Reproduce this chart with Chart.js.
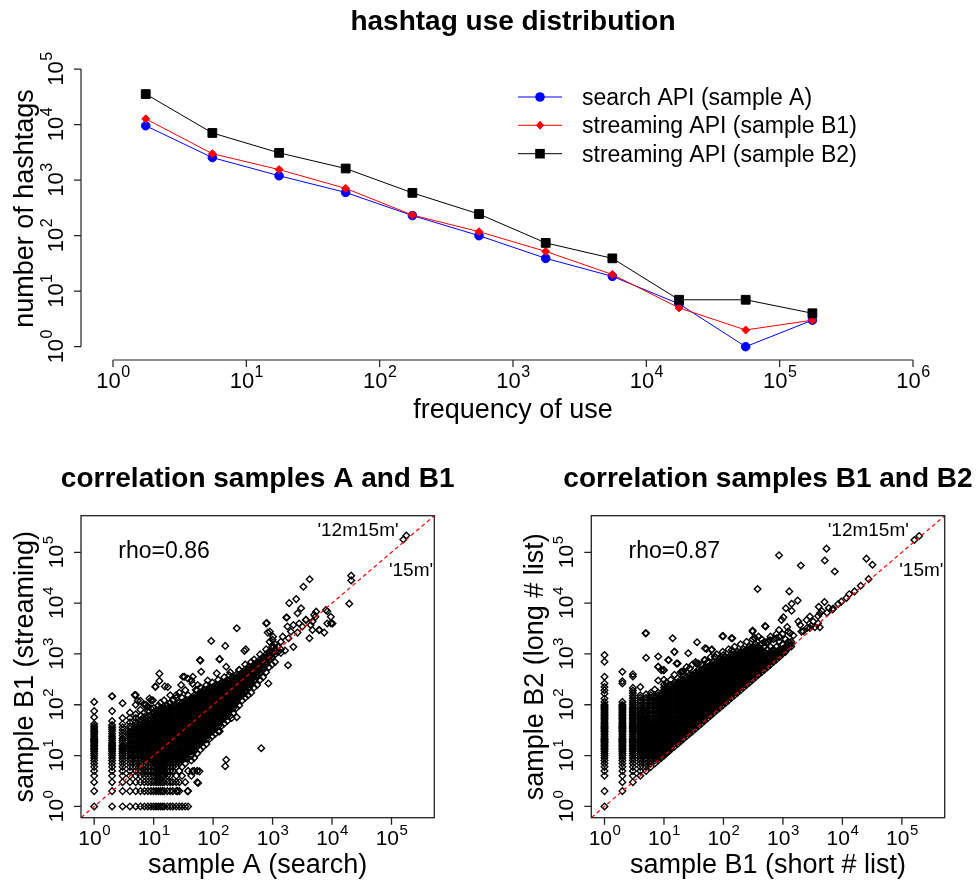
<!DOCTYPE html>
<html>
<head>
<meta charset="utf-8">
<title>hashtag use distribution</title>
<script src="https://cdn.jsdelivr.net/npm/chart.js@4.4.1/dist/chart.umd.min.js"></script>
<style>
    body { margin: 0; background: #fff; }
    #wrap { position: relative; width: 978px; height: 885px; }
    #wrap canvas { position: absolute; left: 0; top: 0; }
</style>
</head>
<body>
<div id="wrap">
    <canvas id="distChart" width="978" height="885"></canvas>
    <canvas id="corrAB1" width="978" height="885"></canvas>
    <canvas id="corrB1B2" width="978" height="885"></canvas>
</div>
<script>
// ---- top panel: hashtag use distribution ----
const freqBins = [1.76, 5.56, 17.6, 55.6, 176, 556, 1760, 5560, 17600, 55600, 176000];
const sampleA  = [9550, 2550, 1200, 600, 230, 100, 39, 18.5, 5.9, 1, 3];
const sampleB1 = [12700, 3000, 1550, 710, 235, 118, 52, 20, 5, 2, 3];
const sampleB2 = [35500, 7080, 3100, 1620, 590, 245, 74, 39, 7, 7, 4];
const seriesLabels = ['search API (sample A)', 'streaming API (sample B1)', 'streaming API (sample B2)'];

const distXTicks = [1, 10, 100, 1e3, 1e4, 1e5, 1e6];
const distYTicks = [1, 10, 100, 1e3, 1e4, 1e5];
const corrTicks = [1, 10, 100, 1e3, 1e4, 1e5];

// ---- bottom panels: one string per x value, "x: y y y ..." ----
const corrAB1Columns = [
    "1: 1 2 3 4 5 6 7 8 9 10 11 12 13 14 15 16 17 18 19 20 21 22 24 26 28 30 32 35 38 42 57 75 114",
    "2: 1 2 3 4 5 6 7 8 9 10 11 12 13 14 15 16 17 18 20 22 24 27 30 33 36 40 48 75 147",
    "3: 1 2 3 4 5 6 7 8 9 10 11 12 13 14 15 16 18 20 22 25 28 32 36 42 55 107",
    "4: 1 2 3 4 5 6 7 8 9 10 11 12 13 14 15 16 17 18 20 22 24 26 28 30 34 38 45 55 70",
    "5: 1 2 3 4 5 6 7 8 9 10 11 12 13 14 15 16 17 18 20 22 24 26 28 30 33 36 40 46 55 65 100 155",
    "6: 1 2 3 4 5 6 7 8 9 10 11 12 13 14 15 16 17 18 19 20 22 24 26 28 30 33 36 40 45 50 60 80 120",
    "7: 1 2 3 4 5 6 7 8 9 10 11 12 13 14 15 16 18 20 22 24 26 28 30 33 36 40 45 50 58 70 100",
    "8: 1 2 3 4 5 6 7 8 9 10 11 12 13 14 15 16 17 18 20 22 24 26 28 30 33 36 40 45 50 60 75 92",
    "9: 1 2 3 4 5 6 7 8 9 10 11 12 13 14 15 16 17 18 19 20 22 24 26 28 30 33 36 40 45 52 60 85 123",
    "10: 1 2 3 4 5 6 7 8 9 10 11 12 13 15 17 19 21 24 27 30 34 38 43 48 54 61 68 86",
    "11: 1 2 3 4 5 6 7 8 9 10 11 12 13 15 17 19 21 24 27 30 34 38 43 48 54 61 68 77",
    "12: 1 2 3 4 5 6 7 8 9 10 11 12 13 15 17 19 21 24 27 30 34 38 43 48 54 61 68 77 97",
    "13: 1 2 3 4 5 6 7 8 9 10 11 12 13 15 17 19 21 24 27 30 34 38 43 48 54 61 68 77 86 109",
    "14: 1 2 3 4 5 6 7 8 9 10 11 12 13 15 17 19 21 24 27 30 34 38 43 48 54 61 68 77 86",
    "15: 1 2 3 4 5 6 7 8 9 10 11 12 13 15 17 19 21 24 27 30 34 38 43 48 54 61 68 77 86 122",
    "17: 1 2 3 4 5 6 7 8 9 10 11 12 13 15 17 19 21 24 27 30 34 38 43 48 54 61 68 77 86 97",
    "19: 1 2 3 4 5 6 7 8 9 10 11 12 13 15 17 19 21 24 27 30 34 38 43 48 54 61 68 77 86 109 154",
    "21: 1 2 3 5 6 7 8 9 10 11 12 13 15 17 19 21 24 27 30 34 38 43 48 54 61 68 77 86 97 122",
    "24: 1 2 3 4 6 7 8 9 10 11 12 13 15 17 19 21 24 27 30 34 38 43 48 54 61 68 77 86 97 137",
    "27: 1 2 3 5 7 8 9 10 11 12 13 15 17 19 21 24 27 30 34 38 43 48 54 61 68 77 86 97 109 173",
    "30: 1 4 6 8 9 10 11 12 13 15 17 19 21 24 27 30 34 38 43 48 54 61 68 77 86 97 109 137",
    "34: 1 3 7 9 10 11 12 13 15 17 19 21 24 27 30 34 38 43 48 54 61 68 77 86 97 109 122 194",
    "38: 1 2 5 9 11 12 13 15 17 19 21 24 27 30 34 38 43 48 54 61 68 77 86 97 109 122 154",
    "43: 4 8 10 12 13 15 17 19 21 24 27 30 34 38 43 48 54 61 68 77 86 97 109 122 137",
    "48: 5 9 12 13 15 17 19 21 24 27 30 34 38 43 48 54 61 68 77 86 97 109 122 137 154",
    "54: 3 5 11 15 17 19 21 24 27 30 34 38 43 48 54 61 68 77 86 97 109 122 137 154 194",
    "61: 13 17 19 21 24 27 30 34 38 43 48 54 61 68 77 86 97 109 122 137 154 173 218",
    "68: 15 19 21 24 27 30 34 38 43 48 54 61 68 77 86 97 109 122 137 154 173 194",
    "77: 17 21 24 27 30 34 38 43 48 54 61 68 77 86 97 109 122 137 154 173 194 245",
    "86: 21 27 30 34 38 43 48 54 61 68 77 86 97 109 122 137 154 173 194 218",
    "97: 24 30 34 38 43 48 54 61 68 77 86 97 109 122 137 154 173 194 218 275",
    "109: 27 34 38 43 48 54 61 68 77 86 97 109 122 137 154 173 194 218 245",
    "122: 30 38 43 48 54 61 68 77 86 97 109 122 137 154 173 194 218 245 309",
    "137: 38 48 54 61 68 77 86 97 109 122 137 154 173 194 218 245 275",
    "154: 43 54 61 68 77 86 97 109 122 137 154 173 194 218 245 275 347",
    "173: 48 61 68 77 86 97 109 122 137 154 173 194 218 245 275 309",
    "194: 61 77 86 97 109 122 137 154 173 194 218 245 275 309 437",
    "218: 68 86 97 109 122 137 154 173 194 218 245 275 309 347",
    "245: 86 109 122 137 154 173 194 218 245 275 309 347 389",
    "275: 97 137 154 173 194 218 245 275 309 347 389 490",
    "309: 122 154 173 194 218 245 275 309 347 389 437",
    "347: 137 173 194 218 245 275 309 347 389 437 490 617",
    "389: 154 218 245 275 309 347 389 437 490 550",
    "437: 173 245 275 309 347 389 437 490 550 693",
    "490: 218 309 347 389 437 490 550 617 778",
    "550: 245 347 389 437 490 550 617 693",
    "617: 309 437 490 550 617 693 778 980",
    "693: 347 490 550 617 693 778 873",
    "778: 437 617 693 778 873 980 1230",
    "873: 550 778 873 980 1100",
    "980: 617 873 980 1100 1380",
    "1100: 693 980 1230 1550",
    "1230: 1100 1380",
    "1380: 1230 1740"
];
const corrAB1Extra = [
    [158000, 178000], [178000, 214000], [21000, 34700], [21000, 28000], [19500, 9770],
    [4200, 29500], [3300, 21000], [2500, 12000], [1900, 10000], [3020, 7940],
    [780, 4000], [850, 263], [645, 14], [830, 2630], [1020, 2190], [890, 1740],
    [1050, 1380], [1150, 1170], [1380, 1050], [1620, 1170], [1740, 5200], [1820, 600],
    [2240, 3700], [2040, 2750], [1860, 2040], [2240, 1380], [2630, 2630], [3630, 4680],
    [3160, 3470], [4370, 3720], [4170, 2040], [4680, 2950], [5250, 5370], [6030, 2950],
    [7400, 2630], [8320, 6920], [9550, 5370], [10200, 3980], [8320, 3980], [5000, 5900],
    [2800, 3980], [1780, 3470], [1480, 2190], [1700, 5200], [2630, 6300], [3650, 4700],
    [4700, 4350], [6150, 2950], [7900, 7350], [9600, 4000], [5400, 6800],
    [250, 3200], [93, 1800], [160, 1440], [61, 740], [129, 790], [128, 790], [60, 760],
    [355, 1230], [336, 1150], [800, 4070], [900, 2750], [1000, 1900],
    [12.5, 410], [12.5, 295], [10.7, 230], [15.4, 230], [4.8, 155], [2, 147],
    [33, 355], [29, 245], [43, 300], [45, 260], [51, 195], [21, 123], [8.5, 133],
    [5.4, 120], [7.4, 100], [10.7, 224], [17.3, 224], [31, 355], [37.5, 330],
    [45.5, 355], [55, 245], [81, 300], [115, 415], [166, 560], [128, 224], [187, 380],
    [275, 480], [63, 445], [24, 155], [9.7, 123], [7.9, 92],
    [250, 57], [205, 55], [129, 30], [166, 8.3], [160, 6.2], [45, 4.9], [59, 4.9],
    [56, 2.9], [25, 2], [37, 2]
];

const corrB1B2Columns = [
    "1: 1 2 4 5 6 7 8 9 10 11 12 13 14 15 16 17 18 19 20 21 22 24 26 28 30 32 34 36 38 40 43 46 50 53 57 61 65 70 75 80 85 90 95 100 114 133 166 194 224 263 355 700 950",
    "2: 2 3 4 5 6 7 8 9 10 11 12 13 14 15 16 17 18 19 20 21 22 24 26 28 30 32 34 36 38 40 43 46 50 53 57 61 65 70 75 80 85 90 95 100 114 263 290 445",
    "3: 3 4 5 6 7 8 9 10 11 12 13 14 15 16 17 18 19 20 21 22 24 26 28 30 32 34 36 38 40 43 46 50 53 57 61 65 70 75 80 85 90 100 110 120 135 150 170 190 215 360 400",
    "4: 4 5 6 7 8 9 10 11 12 13 14 15 16 17 18 19 20 22 24 26 28 30 32 34 36 38 40 43 46 50 55 60 65 70 77 86 97 109 122 137 154 224",
    "5: 5 6 7 8 9 10 11 12 13 14 15 16 17 18 19 20 22 24 26 28 30 32 34 36 38 40 43 46 50 55 60 65 70 77 86 97 109 122 137 160 840 2560",
    "6: 6 7 8 9 10 11 12 13 14 15 16 17 18 19 20 22 24 26 28 30 33 36 40 44 48 54 61 68 77 86 97 109 122 137 154 173",
    "7: 7 8 9 10 11 12 13 14 15 16 17 18 19 20 22 24 26 28 30 33 36 40 44 48 54 61 68 77 86 97 109 122 137 154 200",
    "8: 8 9 10 11 12 13 14 15 16 17 18 19 20 22 24 26 28 30 33 36 40 44 48 54 61 68 77 86 97 109 122 137 154 173 300 560 890",
    "9: 9 10 11 12 13 14 15 16 17 18 19 20 22 24 26 28 30 33 36 40 44 48 54 61 68 77 86 97 109 122 137 160 480",
    "10: 10 11 12 13 14 15 16 17 18 19 20 22 24 26 28 30 33 36 40 44 48 54 61 68 77 86 97 109 122 137 154 173 194 218 250 309 480",
    "11: 11 12 13 14 15 16 17 18 19 20 22 24 26 28 30 33 36 40 44 48 54 61 68 77 86 97 109 122 137 154 173 194 218 275",
    "12: 12 13 14 15 17 19 21 24 27 30 34 38 43 48 54 61 68 77 86 97 109 122 137 154 173 194 218 245 760",
    "13: 13 14 15 17 19 21 24 27 30 34 38 43 48 54 61 68 77 86 97 109 122 137 154 173 194 218 245 309",
    "15: 15 17 19 21 24 27 30 34 38 43 48 54 61 68 77 86 97 109 122 137 154 173 194 218 245 275 389 1100",
    "17: 17 19 21 24 27 30 34 38 43 48 54 61 68 77 86 97 109 122 137 154 173 194 218 245 275 330 650",
    "19: 19 21 24 27 30 34 38 43 48 54 61 68 77 86 97 109 122 137 154 173 194 218 245 275 309 437",
    "21: 21 24 27 30 34 38 43 48 54 61 68 77 86 97 109 122 137 154 173 194 218 245 275 309 400 445",
    "24: 24 27 30 34 38 43 48 54 61 68 77 86 97 109 122 137 154 173 194 218 245 275 309 347 550",
    "27: 27 30 34 38 43 48 54 61 68 77 86 97 109 122 137 154 173 194 218 245 275 309 347 389 520",
    "30: 30 34 38 43 48 54 61 68 77 86 97 109 122 137 154 173 194 218 245 275 309 347 389 617",
    "34: 34 38 43 48 54 61 68 77 86 97 109 122 137 154 173 194 218 245 275 309 347 389 437 693",
    "38: 38 43 48 54 61 68 77 86 97 109 122 137 154 173 194 218 245 275 309 347 389 437 490 650",
    "43: 43 48 54 61 68 77 86 97 109 122 137 154 173 194 218 245 275 309 347 389 437 490 617",
    "48: 48 54 61 68 77 86 97 109 122 137 154 173 194 218 245 275 309 347 389 437 490 550 760",
    "54: 54 61 68 77 86 97 109 122 137 154 173 194 218 245 275 309 347 389 437 490 550 693",
    "61: 61 68 77 86 97 109 122 137 154 173 194 218 245 275 309 347 389 437 490 550 617 873",
    "68: 68 77 86 97 109 122 137 154 173 194 218 245 275 309 347 389 437 490 550 617 693",
    "77: 77 86 97 109 122 137 154 173 194 218 245 275 309 347 389 437 490 550 617 693 980",
    "86: 86 97 109 122 137 154 173 194 218 245 275 309 347 389 437 490 550 617 693 778",
    "97: 97 109 122 137 154 173 194 218 245 275 309 347 389 437 490 550 617 693 778 1100",
    "109: 109 122 137 154 173 194 218 245 275 309 347 389 437 490 550 617 693 778 873",
    "122: 122 137 154 173 194 218 245 275 309 347 389 437 490 550 617 693 778 873 1230",
    "137: 137 154 173 194 218 245 275 309 347 389 437 490 550 617 693 778 873 980",
    "154: 154 173 194 218 245 275 309 347 389 437 490 550 617 693 778 873 980 1380",
    "173: 173 194 218 245 275 309 347 389 437 490 550 617 693 778 873 980 1100",
    "194: 194 218 245 275 309 347 389 437 490 550 617 693 778 873 980 1100 1550",
    "218: 218 245 275 309 347 389 437 490 550 617 693 778 873 980 1100 1230",
    "245: 245 275 309 347 389 437 490 550 617 693 778 873 980 1100 1230 1740",
    "275: 275 309 347 389 437 490 550 617 693 778 873 980 1100 1230 1380",
    "309: 309 347 389 437 490 550 617 693 778 873 980 1100 1230 1380 1950",
    "347: 347 389 437 490 550 617 693 778 873 980 1100 1230 1380 1550",
    "389: 389 437 490 550 617 693 778 873 980 1100 1230 1380 2190",
    "437: 437 490 550 617 693 778 873 980 1100 1230 1550 1950",
    "490: 490 550 617 693 778 873 980 1100 1380 1740",
    "550: 550 617 693 778 873 980 1230 1740",
    "617: 617 693 778 873 980 1100 1380 2190",
    "693: 693 778 873 980 1100 1230 1950",
    "778: 778 873 980 1100 1380 2460",
    "873: 873 980 1100 1230 1740 2190",
    "980: 1000 1100 1230 1550 2460",
    "1100: 1100 1230 1380 1950",
    "1230: 1300 1500 1740 2760",
    "1380: 1400 1550 1740"
];
const corrB1B2Extra = [
    [162000, 174000], [195000, 209000], [860, 87000], [5400, 118000], [5060, 69000],
    [7440, 42000], [2000, 55000], [25300, 75000], [32000, 57000], [27600, 29700],
    [20300, 22000], [11700, 12600], [9600, 10700], [375, 19000], [1280, 17000],
    [1770, 11200], [1400, 9700], [1120, 7940], [1400, 7080], [3900, 5600], [4200, 6300],
    [5900, 8000], [5000, 10500], [4500, 7000], [4000, 8500], [5500, 6500], [6800, 7500],
    [96, 2240], [141, 2040], [309, 2880], [500, 3550], [339, 2040], [860, 2950],
    [1180, 3390], [1320, 2570], [950, 4680], [1020, 5250], [1820, 4350], [1950, 3720],
    [2500, 4680], [2840, 5450], [3230, 4350], [2050, 2750], [2840, 3230], [3900, 4000],
    [3450, 3350], [4170, 3350], [49, 1290], [64, 1230], [72, 870], [100, 950], [138, 1200],
    [263, 1200], [410, 1500], [535, 1620], [605, 1870], [780, 2040],
    [4.9, 2560], [14, 2040], [99, 2240], [136, 2040], [36, 1700], [309, 2750], [338, 2040],
    [513, 3460], [15, 1100], [25.6, 1030], [52, 1260], [63, 1200], [8, 560], [9.8, 480],
    [11.8, 760], [16.3, 650], [20, 445], [27, 520], [35, 650], [49, 760], [72, 890],
    [93, 780], [145, 1100], [1500, 2300], [2200, 2800], [2600, 3300], [3000, 3600],
    [7000, 7800], [8500, 9600], [13000, 15000], [16000, 17000]
];

const axisMin = 10 ** -0.22;
const axisMax = 10 ** 5.72;
const diagonal = [axisMin, axisMax];

const FONT = '"Liberation Sans", Arial, Helvetica, sans-serif';

function columnsToPoints(columns, extra) {
    const points = [];
    columns.forEach(col => {
        const [x, ys] = col.split(':');
        ys.trim().split(/\s+/).forEach(y => points.push({ x: +x, y: +y }));
    });
    extra.forEach(([x, y]) => points.push({ x, y }));
    return points;
}

// "10" with a raised exponent, centred on (x, y) baseline
function powLabel(ctx, x, y, exp, size, supSize, rotated) {
    ctx.save();
    ctx.translate(x, y);
    if (rotated) ctx.rotate(-Math.PI / 2);
    ctx.textAlign = 'left';
    ctx.textBaseline = 'alphabetic';
    ctx.font = size + 'px ' + FONT;
    const w1 = ctx.measureText('10').width;
    ctx.font = supSize + 'px ' + FONT;
    const w2 = ctx.measureText(String(exp)).width;
    const start = -(w1 + w2) / 2;
    ctx.font = size + 'px ' + FONT;
    ctx.fillText('10', start, 0);
    ctx.font = supSize + 'px ' + FONT;
    ctx.fillText(String(exp), start + w1 + 0.5, -size * 0.5);
    ctx.restore();
}

function label(ctx, str, x, y, font, rotated) {
    ctx.save();
    ctx.translate(x, y);
    if (rotated) ctx.rotate(-Math.PI / 2);
    ctx.font = font;
    ctx.textAlign = 'center';
    ctx.textBaseline = 'alphabetic';
    ctx.fillText(str, 0, 0);
    ctx.restore();
}

function drawMarker(ctx, style, x, y, color) {
    ctx.fillStyle = color;
    ctx.beginPath();
    if (style === 'circle') {
        ctx.arc(x, y, 4.8, 0, Math.PI * 2);
    } else if (style === 'rectRot') {
        ctx.moveTo(x, y - 4.5); ctx.lineTo(x + 4, y); ctx.lineTo(x, y + 4.5); ctx.lineTo(x - 4, y);
        ctx.closePath();
    } else {
        ctx.rect(x - 4.8, y - 4.8, 9.6, 9.6);
    }
    ctx.fill();
}

const distDecor = {
    id: 'distDecor',
    afterDraw(chart) {
        const { ctx, chartArea: a, scales: { x, y } } = chart;
        ctx.save();
        ctx.strokeStyle = '#222';
        ctx.fillStyle = '#000';
        ctx.lineWidth = 1.2;

        // x axis
        const yAx = a.bottom + 1;
        ctx.beginPath();
        ctx.moveTo(x.getPixelForValue(distXTicks[0]), yAx);
        ctx.lineTo(x.getPixelForValue(distXTicks[distXTicks.length - 1]), yAx);
        distXTicks.forEach(v => {
            const px = x.getPixelForValue(v);
            ctx.moveTo(px, yAx);
            ctx.lineTo(px, yAx + 7);
        });
        // y axis
        const xAx = a.left;
        ctx.moveTo(xAx, y.getPixelForValue(distYTicks[0]));
        ctx.lineTo(xAx, y.getPixelForValue(distYTicks[distYTicks.length - 1]));
        distYTicks.forEach(v => {
            const py = y.getPixelForValue(v);
            ctx.moveTo(xAx, py);
            ctx.lineTo(xAx - 7, py);
        });
        ctx.stroke();

        distXTicks.forEach(v => powLabel(ctx, x.getPixelForValue(v), 388, Math.round(Math.log10(v)), 22, 16, false));
        distYTicks.forEach(v => powLabel(ctx, a.left - 18, y.getPixelForValue(v), Math.round(Math.log10(v)), 22, 16, true));

        label(ctx, 'hashtag use distribution', (a.left + a.right) / 2, 30, 'bold 28px ' + FONT);
        label(ctx, 'frequency of use', (a.left + a.right) / 2, 418, '27px ' + FONT);
        label(ctx, 'number of hashtags', a.left - 48, (a.top + a.bottom) / 2, '27px ' + FONT, true);

        // legend
        const rows = [105, 133.3, 161.7];
        chart.data.datasets.forEach((ds, i) => {
            const my = rows[i] - 8;
            ctx.strokeStyle = ds.borderColor;
            ctx.lineWidth = 1;
            ctx.beginPath();
            ctx.moveTo(518, my);
            ctx.lineTo(562, my);
            ctx.stroke();
            drawMarker(ctx, ds.pointStyle, 540, my, ds.borderColor);
            ctx.fillStyle = '#000';
            ctx.font = '23px ' + FONT;
            ctx.textAlign = 'left';
            ctx.fillText(ds.label, 582, rows[i]);
        });
        ctx.restore();
    }
};

function makeCorrDecor(title, xTitle, yTitle, rhoText) {
    return {
        id: 'corrDecor',
        afterDraw(chart) {
            const { ctx, chartArea: a, scales: { x, y } } = chart;
            ctx.save();
            ctx.strokeStyle = '#222';
            ctx.lineWidth = 1.3;
            ctx.strokeRect(a.left, a.top, a.right - a.left, a.bottom - a.top);
            ctx.beginPath();
            corrTicks.forEach(v => {
                const px = x.getPixelForValue(v);
                ctx.moveTo(px, a.bottom);
                ctx.lineTo(px, a.bottom + 7);
                const py = y.getPixelForValue(v);
                ctx.moveTo(a.left, py);
                ctx.lineTo(a.left - 7, py);
            });
            ctx.stroke();
            ctx.fillStyle = '#000';
            corrTicks.forEach(v => {
                const e = Math.round(Math.log10(v));
                powLabel(ctx, x.getPixelForValue(v), 845, e, 21, 15, false);
                powLabel(ctx, a.left - 18, y.getPixelForValue(v), e, 21, 15, true);
            });
            const cx = (a.left + a.right) / 2;
            label(ctx, title, cx, 486.7, 'bold 28px ' + FONT);
            label(ctx, xTitle, cx, 873, '27px ' + FONT);
            label(ctx, yTitle, a.left - 48, (a.top + a.bottom) / 2, '27px ' + FONT, true);
            label(ctx, rhoText, a.left + 83, 558.3, '23px ' + FONT);
            label(ctx, "'12m15m'", a.left + 277, 536, '19px ' + FONT);
            label(ctx, "'15m'", a.left + 330, 576, '19px ' + FONT);
            ctx.restore();
        }
    };
}

new Chart(document.getElementById('distChart'), {
    type: 'line',
    data: {
        datasets: [
            {
                label: seriesLabels[0],
                data: freqBins.map((f, i) => ({ x: f, y: sampleA[i] })),
                borderColor: '#0000ff', backgroundColor: '#0000ff',
                pointStyle: 'circle', pointRadius: 4.3, borderWidth: 1, order: 3
            },
            {
                label: seriesLabels[1],
                data: freqBins.map((f, i) => ({ x: f, y: sampleB1[i] })),
                borderColor: '#ff0000', backgroundColor: '#ff0000',
                pointStyle: 'rectRot', pointRadius: 4, borderWidth: 1, order: 2
            },
            {
                label: seriesLabels[2],
                data: freqBins.map((f, i) => ({ x: f, y: sampleB2[i] })),
                borderColor: '#000000', backgroundColor: '#000000',
                pointStyle: 'rect', pointRadius: 6.2, borderWidth: 1, order: 1
            }
        ]
    },
    options: {
        responsive: false,
        animation: false,
        events: [],
        layout: { padding: { left: 81, right: 33, top: 58, bottom: 526 }, autoPadding: false },
        plugins: { legend: { display: false }, tooltip: { enabled: false } },
        elements: { line: { tension: 0 } },
        scales: {
            x: { type: 'logarithmic', min: 10 ** -0.24, max: 10 ** 6.24, display: false },
            y: { type: 'logarithmic', min: 10 ** -0.2, max: 10 ** 5.2, display: false }
        }
    },
    plugins: [distDecor]
});

function corrChart(canvasId, points, padLeft, padRight, decor) {
    return new Chart(document.getElementById(canvasId), {
        type: 'scatter',
        data: {
            datasets: [
                {
                    data: points,
                    pointStyle: 'rectRot',
                    pointRadius: 3.3,
                    borderWidth: 1.4,
                    borderColor: '#000',
                    backgroundColor: 'rgba(0,0,0,0)',
                    order: 2
                },
                {
                    type: 'line',
                    data: diagonal.map(v => ({ x: v, y: v })),
                    borderColor: '#ff0000',
                    borderWidth: 1.2,
                    borderDash: [4, 3],
                    pointRadius: 0,
                    showLine: true,
                    order: 1
                }
            ]
        },
        options: {
            responsive: false,
            animation: false,
            events: [],
            layout: { padding: { left: padLeft, right: padRight, top: 515.7, bottom: 67.3 }, autoPadding: false },
            plugins: { legend: { display: false }, tooltip: { enabled: false } },
            scales: {
                x: { type: 'logarithmic', min: axisMin, max: axisMax, display: false },
                y: { type: 'logarithmic', min: axisMin, max: axisMax, display: false }
            }
        },
        plugins: [decor]
    });
}

corrChart('corrAB1', columnsToPoints(corrAB1Columns, corrAB1Extra), 81, 543.7,
    makeCorrDecor('correlation samples A and B1', 'sample A (search)', 'sample B1 (streaming)', 'rho=0.86'));
corrChart('corrB1B2', columnsToPoints(corrB1B2Columns, corrB1B2Extra), 591.3, 33.3,
    makeCorrDecor('correlation samples B1 and B2', 'sample B1 (short # list)', 'sample B2 (long # list)', 'rho=0.87'));
</script>
</body>
</html>
